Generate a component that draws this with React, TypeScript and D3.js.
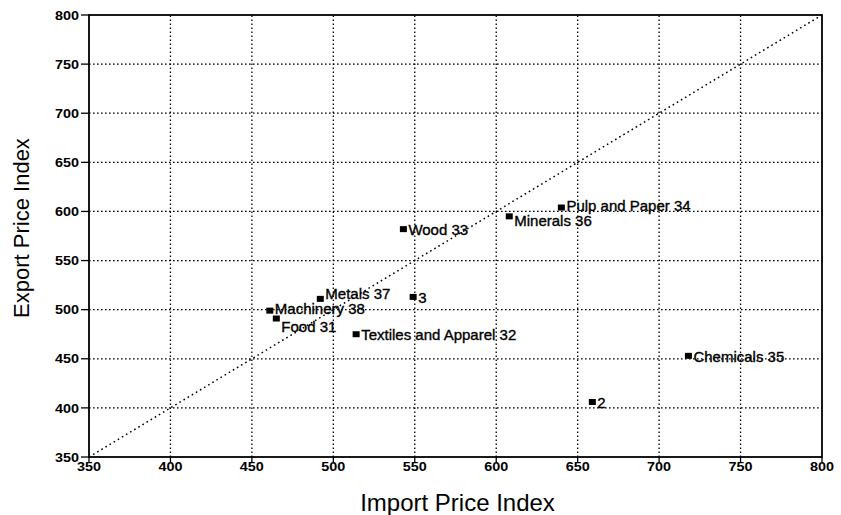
import React from "react";
import * as d3 from "d3";

const labels = [
  "Food 31",
  "Textiles and Apparel 32",
  "Wood 33",
  "Pulp and Paper 34",
  "Chemicals 35",
  "Minerals 36",
  "Metals 37",
  "Machinery 38",
  "3",
  "2",
];
const importIdx = [465, 514, 543, 640, 718, 608, 492, 461, 549, 659];
const exportIdx = [491, 475, 582, 604, 453, 595, 511, 499, 513, 406];
const ticks = [350, 400, 450, 500, 550, 600, 650, 700, 750, 800];

const W = 841;
const H = 515;
const FONT = "'Liberation Sans', Arial, sans-serif";

// small vertical nudges (px) so crowded labels stay legible
const NUDGE: Record<string, number> = {
  "Food 31": 8,
  "Machinery 38": -2,
  "Metals 37": -6,
  "Minerals 36": 4,
  "Pulp and Paper 34": -2,
};

export default function App() {
  const x = d3.scaleLinear().domain([350, 800]).range([89, 822]);
  const y = d3.scaleLinear().domain([350, 800]).range([457, 15]);
  const [x0, x1] = x.range();
  const [y0, y1] = y.range();
  const pts = labels.map((l, i) => ({ l, xi: importIdx[i], yi: exportIdx[i] }));
  const dot = "1.6,2.4";
  return (
    <svg
      width={W}
      height={H}
      style={{ position: "absolute", left: 0, top: 0, background: "#fff" }}
      fontFamily={FONT}
    >
      <rect x={0} y={0} width={W} height={H} fill="#fff" />
      {/* grid */}
      {ticks.slice(1, -1).map((t) => (
        <line key={"gx" + t} x1={x(t)} x2={x(t)} y1={y0} y2={y1} stroke="#000" strokeWidth={1.3} strokeDasharray={dot} />
      ))}
      {ticks.slice(1, -1).map((t) => (
        <line key={"gy" + t} x1={x0} x2={x1} y1={y(t)} y2={y(t)} stroke="#000" strokeWidth={1.3} strokeDasharray={dot} />
      ))}
      {/* diagonal */}
      <line x1={x(350)} y1={y(350)} x2={x(800)} y2={y(800)} stroke="#000" strokeWidth={1.5} strokeDasharray="1.6,3.2" />
      {/* frame */}
      <rect x={x0} y={y1} width={x1 - x0} height={y0 - y1} fill="none" stroke="#000" strokeWidth={1.8} />
      {/* y ticks */}
      {ticks.map((t) => (
        <g key={"ty" + t}>
          <line x1={x0 - 8} x2={x0} y1={y(t)} y2={y(t)} stroke="#000" strokeWidth={1.3} />
          <text x={x0 - 10} y={y(t)} dy="0.36em" textAnchor="end" fontSize={13} fontWeight="bold" textLength={24} lengthAdjust="spacingAndGlyphs">
            {t}
          </text>
        </g>
      ))}
      {/* x ticks */}
      {ticks.map((t) => (
        <g key={"tx" + t}>
          <line x1={x(t)} x2={x(t)} y1={y0} y2={y0 + 5} stroke="#000" strokeWidth={1.3} />
          <text x={x(t) - 12} y={y0 + 14} textAnchor="start" fontSize={13} fontWeight="bold" textLength={24} lengthAdjust="spacingAndGlyphs">
            {t}
          </text>
        </g>
      ))}
      {/* points */}
      {pts.map((p) => (
        <g key={p.l}>
          <rect x={x(p.xi) - 3.5} y={y(p.yi) - 3} width={7} height={6} fill="#000" />
          <text
            x={x(p.xi) + 5}
            y={y(p.yi) + (NUDGE[p.l] || 0)}
            dy="0.38em"
            fontSize={15}
            fill="#000"
            stroke="#000"
            strokeWidth={0.35}
          >
            {p.l}
          </text>
        </g>
      ))}
      {/* axis titles */}
      <text x={(x0 + x1) / 2 + 2} y={511} textAnchor="middle" fontSize={24}>
        Import Price Index
      </text>
      <text transform={`translate(29,228) rotate(-90)`} textAnchor="middle" fontSize={22}>
        Export Price Index
      </text>
    </svg>
  );
}
